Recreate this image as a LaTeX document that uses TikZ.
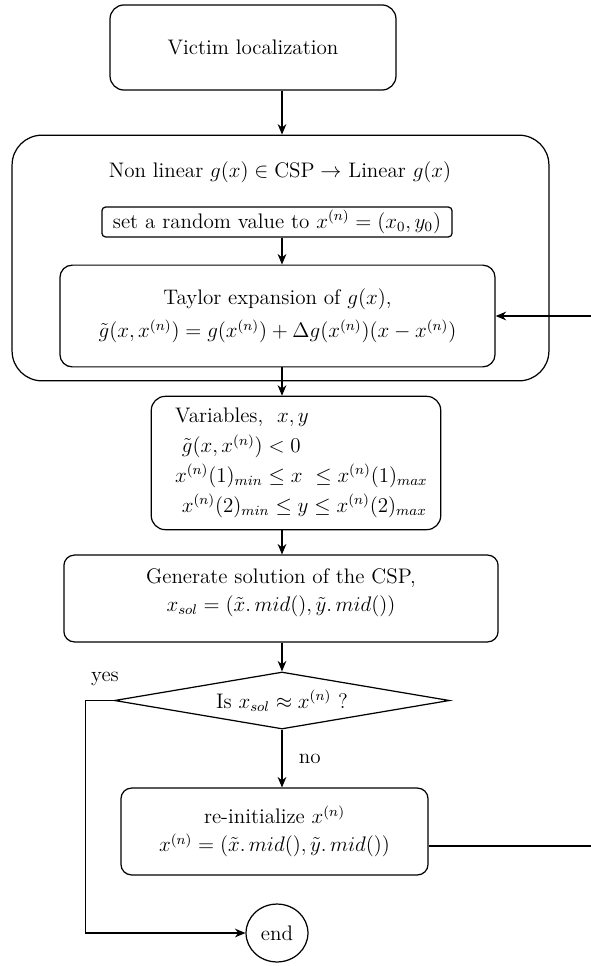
\documentclass[tikz,border=0pt]{standalone}
\usepackage{amsmath}
\usepackage{tikz}
\usetikzlibrary{shapes.geometric, arrows.meta, positioning, calc}
\tikzset{
  stepbox/.style={
    rectangle, rounded corners=8pt, draw=black, line width=0.7pt,
    text centered, align=center, inner sep=2pt
  },
  initbox/.style={
    rectangle, rounded corners=2pt, draw=black, line width=0.7pt,
    text centered, inner sep=1pt
  },
  loopbox/.style={
    rectangle, rounded corners=17pt, draw=black, line width=0.7pt
  },
  decision/.style={
    diamond, draw=black, line width=0.7pt, aspect=5.9,
    inner sep=0pt, text centered
  },
  stopnode/.style={
    ellipse, draw=black, line width=0.7pt, inner sep=0pt
  },
  arrow/.style={line width=0.7pt, -{Stealth[length=6pt,width=5pt]}},
  line/.style={line width=0.7pt},
}

\begin{document}
\begin{tikzpicture}[x=0.57pt, y=-0.57pt, font=\large]
  \useasboundingbox (0,0) rectangle (590,966);
  \coordinate (spine) at (282,0);
  \coordinate (back)  at (640,846);

  \node (victim) [stepbox, minimum width=163pt, minimum height=48.5pt] at (253,47.5) {Victim localization};
  \node (outer)  [loopbox, minimum width=306pt, minimum height=140pt] at (280.5,258) {};
  \node (nonlin) at (280,172) {Non linear $g(x) \in \text{CSP} \rightarrow$ Linear $g(x)$};
  \node (random) [initbox, minimum width=199.5pt, minimum height=17pt] at (277,222) {set a random value to $x^{(n)} = (x_0, y_0)$};
  \node (taylor) [stepbox, rounded corners=7pt, minimum width=248pt, minimum height=58pt] at (277.5,316)
    {Taylor expansion of $g(x)$,\\[5pt] $\tilde{g}(x,x^{(n)}) = g(x^{(n)}) + \Delta g(x^{(n)})(x-x^{(n)})$};
  \node (vars)   [stepbox, align=left, minimum width=165pt, minimum height=76pt] at (296,463)
    {\hspace*{6pt}Variables,~ $x,y$\\[3pt]
     \hspace*{6pt}~$\tilde{g}(x,x^{(n)}) < 0$\\[3pt]
     \hspace*{6pt}$x^{(n)}(1)_{min} \le x ~\le x^{(n)}(1)_{max}$\\[3pt]
     \hspace*{6pt}~$x^{(n)}(2)_{min} \le y \le x^{(n)}(2)_{max}$};
  \node (gen)    [stepbox, rounded corners=6pt, minimum width=247.5pt, minimum height=49.5pt] at (281,598.5)
    {Generate solution of the CSP,\\[2pt] $x_{sol} = (\tilde{x}.\,mid(), \tilde{y}.\,mid())$\\[-4pt] \mbox{}};
  \node (check)  [decision, minimum width=191pt, minimum height=32.5pt] at (282,700.5) {Is $x_{sol} \approx x^{(n)}$ ?};
  \node (reinit) [stepbox, rounded corners=6pt, minimum width=175pt, minimum height=49.5pt] at (274.5,831.5)
    {re-initialize $x^{(n)}$\\[2pt] $x^{(n)} = (\tilde{x}.\,mid(), \tilde{y}.\,mid())$};
  \node (end)    [stopnode, minimum width=35.3pt, minimum height=33pt] at (277,933) {end};
  \node (yes)    at (105,679) {yes};

  \draw [arrow] (victim.south -| spine) -- (outer.north -| spine);
  \draw [arrow] (random.south -| spine) -- (taylor.north -| spine);
  \draw [arrow] (taylor.south -| spine) -- (vars.north -| spine);
  \draw [arrow] (vars.south -| spine)   -- (gen.north -| spine);
  \draw [arrow] (gen.south -| spine)    -- (check.north);
  \draw [arrow] (check.south) -- node[right=6pt]{no} (reinit.north -| check.south);
  \draw [arrow] (check.west) -- ++(-28,0) |- (end.west);
  \draw [line]  (reinit.east |- back) -- (back);
  \draw [arrow] (back) |- (taylor.east);
\end{tikzpicture}
\end{document}
